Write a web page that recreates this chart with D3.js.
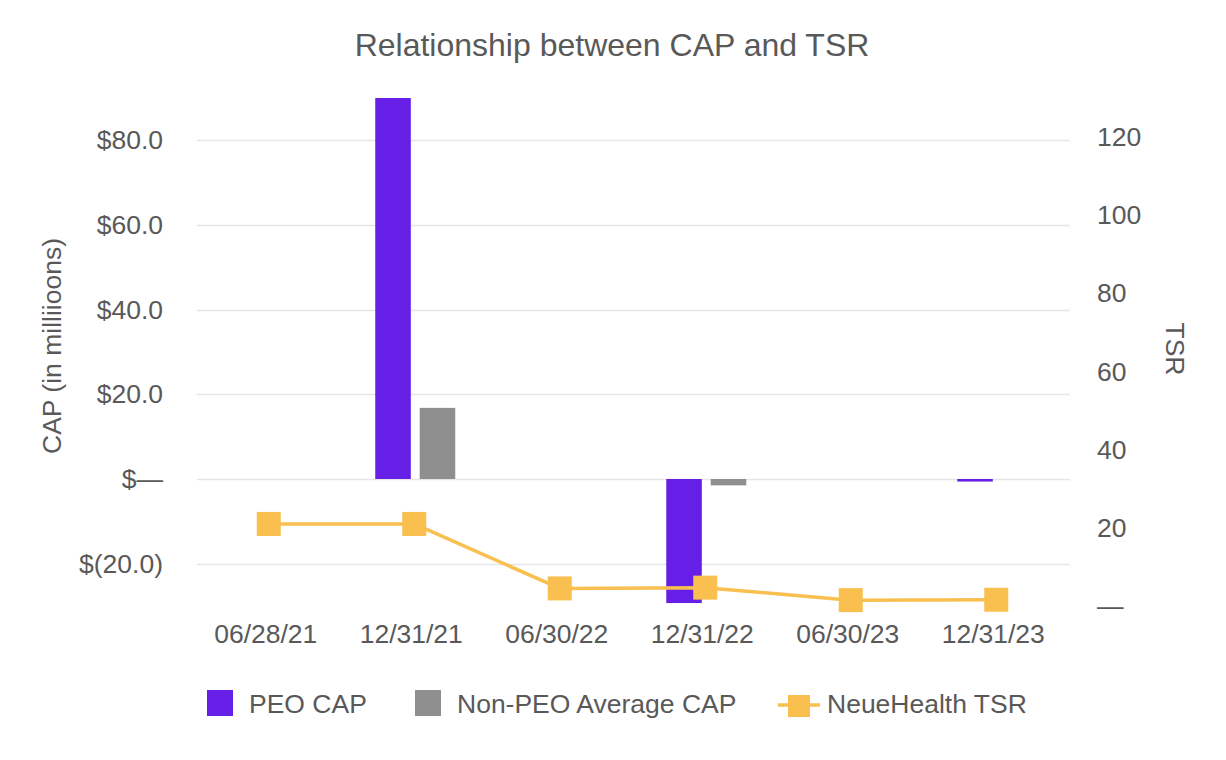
<!DOCTYPE html>
<html>
<head>
<meta charset="utf-8">
<script src="https://cdn.jsdelivr.net/npm/d3@7"></script>
<style>
  html, body { margin: 0; padding: 0; background: #fff; }
  svg { display: block; font-family: Arial, "Liberation Sans", Helvetica, sans-serif; }
</style>
</head>
<body>
<svg id="chart" width="1226" height="760"></svg>
<script>
// ---- data ----
const dates = ['06/28/21', '12/31/21', '06/30/22', '12/31/22', '06/30/23', '12/31/23'];
const peoCap = [null, 90.0, null, -29.3, null, -0.6];       // $ millions
const nonPeoCap = [null, 16.8, null, -1.5, null, 0.0];      // $ millions
const tsr = [21.0, 21.0, 4.5, 4.7, 1.5, 1.6];
const capTicks = [-20, 0, 20, 40, 60, 80];
const tsrTicks = [0, 20, 40, 60, 80, 100, 120];

const seriesNames = ['PEO CAP', 'Non-PEO Average CAP', 'NeueHealth TSR'];
const colors = { peo: '#661fe6', nonPeo: '#8f8f8f', tsr: '#f9bf4f' };
const textColor = '#595959';

// ---- layout ----
const svg = d3.select('#chart');
const plot = { left: 197, right: 1070, top: 98, bottom: 606 };

svg.append('rect').attr('width', 1226).attr('height', 760).attr('fill', '#fff');

const x = d3.scaleBand().domain(dates).range([plot.left, plot.right]);
const yCap = d3.scaleLinear().domain([-30, 90]).range([plot.bottom, plot.top]);
const yTsr = d3.scaleLinear().domain([0, 130]).range([plot.bottom, plot.top]);

const bw = x.bandwidth();
const xs = d3.scaleBand().domain(['peo', 'nonPeo'])
  .range([bw / 2 - 40, bw / 2 + 40]).paddingInner(0.2);

const fmtCap = v => v === 0 ? '$\u2014' : v < 0 ? `$(${Math.abs(v).toFixed(1)})` : `$${v.toFixed(1)}`;
const fmtTsr = v => v === 0 ? '\u2014' : String(v);

// gridlines (left axis ticks)
svg.append('g').selectAll('line').data(capTicks).join('line')
  .attr('x1', plot.left).attr('x2', plot.right)
  .attr('y1', d => Math.round(yCap(d)) + 0.5).attr('y2', d => Math.round(yCap(d)) + 0.5)
  .attr('stroke', '#e6e6e6').attr('stroke-width', 1.5);

// left axis labels
const leftAxis = svg.append('g').attr('transform', `translate(${plot.left},0)`)
  .call(d3.axisLeft(yCap).tickValues(capTicks).tickFormat(fmtCap).tickSize(0).tickPadding(34));
leftAxis.select('.domain').remove();
leftAxis.selectAll('text').attr('fill', textColor).attr('font-size', 26.5)
  .attr('font-family', 'Arial, "Liberation Sans", sans-serif');

// right axis labels
const rightAxis = svg.append('g').attr('transform', `translate(${plot.right},0)`)
  .call(d3.axisRight(yTsr).tickValues(tsrTicks).tickFormat(fmtTsr).tickSize(0).tickPadding(27));
rightAxis.select('.domain').remove();
rightAxis.selectAll('text').attr('fill', textColor).attr('font-size', 26.5)
  .attr('font-family', 'Arial, "Liberation Sans", sans-serif');

// x axis labels
const bottomAxis = svg.append('g').attr('transform', `translate(0,${plot.bottom})`)
  .call(d3.axisBottom(x).tickSize(0).tickPadding(18));
bottomAxis.select('.domain').remove();
bottomAxis.selectAll('text').attr('fill', textColor).attr('font-size', 26.5)
  .attr('dx', -4)
  .attr('font-family', 'Arial, "Liberation Sans", sans-serif');

// bars
const barRows = [];
dates.forEach((d, i) => {
  if (peoCap[i] !== null) barRows.push({ date: d, key: 'peo', value: peoCap[i] });
  if (nonPeoCap[i] !== null) barRows.push({ date: d, key: 'nonPeo', value: nonPeoCap[i] });
});

svg.append('g').selectAll('rect').data(barRows).join('rect')
  .attr('x', d => x(d.date) + xs(d.key))
  .attr('width', xs.bandwidth())
  .attr('y', d => yCap(Math.max(0, d.value)))
  .attr('height', d => Math.abs(yCap(d.value) - yCap(0)))
  .attr('fill', d => colors[d.key]);

// TSR line + square markers
const line = d3.line()
  .x((d, i) => x(dates[i]) + bw / 2 - 1)
  .y(d => yTsr(d));

svg.append('path').datum(tsr)
  .attr('d', line)
  .attr('fill', 'none')
  .attr('stroke', colors.tsr)
  .attr('stroke-width', 3.5)
  .attr('stroke-linejoin', 'round');

const mk = 24;
svg.append('g').selectAll('rect').data(tsr).join('rect')
  .attr('x', (d, i) => x(dates[i]) + bw / 2 - 1 - mk / 2)
  .attr('y', d => yTsr(d) - mk / 2)
  .attr('width', mk).attr('height', mk)
  .attr('fill', colors.tsr);

// title
svg.append('text')
  .attr('x', 612).attr('y', 56)
  .attr('text-anchor', 'middle')
  .attr('font-size', 32)
  .attr('fill', textColor)
  .text('Relationship between CAP and TSR');

// axis titles
svg.append('text')
  .attr('transform', 'translate(61,346) rotate(-90)')
  .attr('text-anchor', 'middle')
  .attr('font-size', 26.5)
  .attr('fill', textColor)
  .text('CAP (in milliioons)');

svg.append('text')
  .attr('transform', 'translate(1166,349) rotate(90)')
  .attr('text-anchor', 'middle')
  .attr('font-size', 26.5)
  .attr('fill', textColor)
  .text('TSR');

// legend
const legend = svg.append('g').attr('font-size', 26.5).attr('fill', textColor);
const ly = 703;

legend.append('rect').attr('x', 207).attr('y', ly - 13).attr('width', 26).attr('height', 26).attr('fill', colors.peo);
legend.append('text').attr('x', 249).attr('y', ly + 10).text(seriesNames[0]);

legend.append('rect').attr('x', 415).attr('y', ly - 13).attr('width', 26).attr('height', 26).attr('fill', colors.nonPeo);
legend.append('text').attr('x', 457).attr('y', ly + 10).text(seriesNames[1]);

legend.append('line').attr('x1', 778).attr('x2', 820).attr('y1', ly + 2).attr('y2', ly + 2)
  .attr('stroke', colors.tsr).attr('stroke-width', 3.5);
legend.append('rect').attr('x', 788).attr('y', ly - 8).attr('width', 22).attr('height', 22).attr('fill', colors.tsr);
legend.append('text').attr('x', 827).attr('y', ly + 10).text(seriesNames[2]);
</script>
</body>
</html>
